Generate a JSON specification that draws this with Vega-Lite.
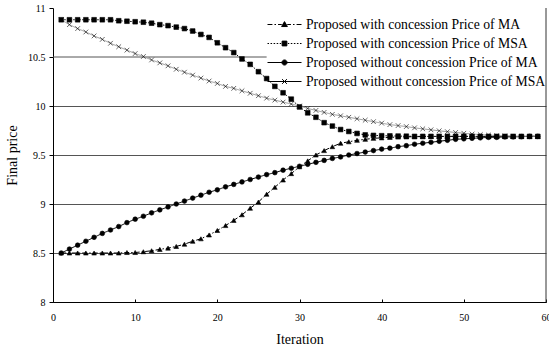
{
  "$schema": "https://vega.github.io/schema/vega-lite/v6.json",
  "width": 493,
  "height": 294,
  "autosize": {"type": "none"},
  "padding": {"left": 53, "top": 8, "right": 3, "bottom": 46},
  "config": {
    "view": {"stroke": null},
    "font": "Liberation Serif",
    "axis": {
      "labelFont": "Liberation Serif",
      "titleFont": "Liberation Serif",
      "labelColor": "black",
      "titleColor": "black",
      "titleFontWeight": "normal",
      "domainColor": "black",
      "tickColor": "black",
      "labelFontSize": 10,
      "titleFontSize": 14
    }
  },
  "datasets": {
    "rows": [
      {"s":"A","x":1,"y":8.5},{"s":"A","x":2,"y":8.5},{"s":"A","x":3,"y":8.5},{"s":"A","x":4,"y":8.5},{"s":"A","x":5,"y":8.5},{"s":"A","x":6,"y":8.5},{"s":"A","x":7,"y":8.5},{"s":"A","x":8,"y":8.5},{"s":"A","x":9,"y":8.505},{"s":"A","x":10,"y":8.505},
      {"s":"A","x":11,"y":8.513},{"s":"A","x":12,"y":8.523},{"s":"A","x":13,"y":8.537},{"s":"A","x":14,"y":8.55},{"s":"A","x":15,"y":8.567},{"s":"A","x":16,"y":8.59},{"s":"A","x":17,"y":8.62},{"s":"A","x":18,"y":8.645},{"s":"A","x":19,"y":8.684},{"s":"A","x":20,"y":8.73},
      {"s":"A","x":21,"y":8.78},{"s":"A","x":22,"y":8.833},{"s":"A","x":23,"y":8.89},{"s":"A","x":24,"y":8.957},{"s":"A","x":25,"y":9.02},{"s":"A","x":26,"y":9.1},{"s":"A","x":27,"y":9.17},{"s":"A","x":28,"y":9.245},{"s":"A","x":29,"y":9.31},{"s":"A","x":30,"y":9.38},
      {"s":"A","x":31,"y":9.44},{"s":"A","x":32,"y":9.5},{"s":"A","x":33,"y":9.545},{"s":"A","x":34,"y":9.585},{"s":"A","x":35,"y":9.62},{"s":"A","x":36,"y":9.635},{"s":"A","x":37,"y":9.65},{"s":"A","x":38,"y":9.66},{"s":"A","x":39,"y":9.67},{"s":"A","x":40,"y":9.675},
      {"s":"A","x":41,"y":9.68},{"s":"A","x":42,"y":9.683},{"s":"A","x":43,"y":9.685},{"s":"A","x":44,"y":9.687},{"s":"A","x":45,"y":9.688},{"s":"A","x":46,"y":9.69},{"s":"A","x":47,"y":9.69},{"s":"A","x":48,"y":9.69},{"s":"A","x":49,"y":9.69},{"s":"A","x":50,"y":9.69},
      {"s":"A","x":51,"y":9.69},{"s":"A","x":52,"y":9.69},{"s":"A","x":53,"y":9.69},{"s":"A","x":54,"y":9.69},{"s":"A","x":55,"y":9.69},{"s":"A","x":56,"y":9.69},{"s":"A","x":57,"y":9.69},{"s":"A","x":58,"y":9.69},{"s":"A","x":59,"y":9.69},

      {"s":"B","x":1,"y":10.88},{"s":"B","x":2,"y":10.88},{"s":"B","x":3,"y":10.88},{"s":"B","x":4,"y":10.88},{"s":"B","x":5,"y":10.88},{"s":"B","x":6,"y":10.88},{"s":"B","x":7,"y":10.88},{"s":"B","x":8,"y":10.87},{"s":"B","x":9,"y":10.865},{"s":"B","x":10,"y":10.86},
      {"s":"B","x":11,"y":10.855},{"s":"B","x":12,"y":10.845},{"s":"B","x":13,"y":10.83},{"s":"B","x":14,"y":10.82},{"s":"B","x":15,"y":10.805},{"s":"B","x":16,"y":10.79},{"s":"B","x":17,"y":10.765},{"s":"B","x":18,"y":10.73},{"s":"B","x":19,"y":10.7},{"s":"B","x":20,"y":10.645},
      {"s":"B","x":21,"y":10.595},{"s":"B","x":22,"y":10.545},{"s":"B","x":23,"y":10.48},{"s":"B","x":24,"y":10.425},{"s":"B","x":25,"y":10.35},{"s":"B","x":26,"y":10.28},{"s":"B","x":27,"y":10.2},{"s":"B","x":28,"y":10.135},{"s":"B","x":29,"y":10.07},{"s":"B","x":30,"y":9.99},
      {"s":"B","x":31,"y":9.93},{"s":"B","x":32,"y":9.885},{"s":"B","x":33,"y":9.83},{"s":"B","x":34,"y":9.795},{"s":"B","x":35,"y":9.76},{"s":"B","x":36,"y":9.74},{"s":"B","x":37,"y":9.72},{"s":"B","x":38,"y":9.705},{"s":"B","x":39,"y":9.7},{"s":"B","x":40,"y":9.697},
      {"s":"B","x":41,"y":9.695},{"s":"B","x":42,"y":9.693},{"s":"B","x":43,"y":9.692},{"s":"B","x":44,"y":9.69},{"s":"B","x":45,"y":9.69},{"s":"B","x":46,"y":9.69},{"s":"B","x":47,"y":9.69},{"s":"B","x":48,"y":9.69},{"s":"B","x":49,"y":9.69},{"s":"B","x":50,"y":9.69},
      {"s":"B","x":51,"y":9.69},{"s":"B","x":52,"y":9.69},{"s":"B","x":53,"y":9.69},{"s":"B","x":54,"y":9.69},{"s":"B","x":55,"y":9.69},{"s":"B","x":56,"y":9.69},{"s":"B","x":57,"y":9.69},{"s":"B","x":58,"y":9.69},{"s":"B","x":59,"y":9.69},

      {"s":"C","x":1,"y":8.5},{"s":"C","x":2,"y":8.54},{"s":"C","x":3,"y":8.58},{"s":"C","x":4,"y":8.62},{"s":"C","x":5,"y":8.66},{"s":"C","x":6,"y":8.7},{"s":"C","x":7,"y":8.735},{"s":"C","x":8,"y":8.77},{"s":"C","x":9,"y":8.81},{"s":"C","x":10,"y":8.845},
      {"s":"C","x":11,"y":8.875},{"s":"C","x":12,"y":8.91},{"s":"C","x":13,"y":8.94},{"s":"C","x":14,"y":8.97},{"s":"C","x":15,"y":9.0},{"s":"C","x":16,"y":9.03},{"s":"C","x":17,"y":9.06},{"s":"C","x":18,"y":9.09},{"s":"C","x":19,"y":9.12},{"s":"C","x":20,"y":9.145},
      {"s":"C","x":21,"y":9.175},{"s":"C","x":22,"y":9.2},{"s":"C","x":23,"y":9.225},{"s":"C","x":24,"y":9.25},{"s":"C","x":25,"y":9.275},{"s":"C","x":26,"y":9.3},{"s":"C","x":27,"y":9.32},{"s":"C","x":28,"y":9.345},{"s":"C","x":29,"y":9.365},{"s":"C","x":30,"y":9.385},
      {"s":"C","x":31,"y":9.405},{"s":"C","x":32,"y":9.425},{"s":"C","x":33,"y":9.445},{"s":"C","x":34,"y":9.465},{"s":"C","x":35,"y":9.48},{"s":"C","x":36,"y":9.5},{"s":"C","x":37,"y":9.515},{"s":"C","x":38,"y":9.53},{"s":"C","x":39,"y":9.545},{"s":"C","x":40,"y":9.56},
      {"s":"C","x":41,"y":9.57},{"s":"C","x":42,"y":9.585},{"s":"C","x":43,"y":9.595},{"s":"C","x":44,"y":9.61},{"s":"C","x":45,"y":9.62},{"s":"C","x":46,"y":9.63},{"s":"C","x":47,"y":9.64},{"s":"C","x":48,"y":9.65},{"s":"C","x":49,"y":9.66},{"s":"C","x":50,"y":9.665},
      {"s":"C","x":51,"y":9.67},{"s":"C","x":52,"y":9.675},{"s":"C","x":53,"y":9.68},{"s":"C","x":54,"y":9.68},{"s":"C","x":55,"y":9.685},{"s":"C","x":56,"y":9.685},{"s":"C","x":57,"y":9.687},{"s":"C","x":58,"y":9.69},{"s":"C","x":59,"y":9.69},

      {"s":"D","x":1,"y":10.88},{"s":"D","x":2,"y":10.83},{"s":"D","x":3,"y":10.79},{"s":"D","x":4,"y":10.755},{"s":"D","x":5,"y":10.715},{"s":"D","x":6,"y":10.68},{"s":"D","x":7,"y":10.64},{"s":"D","x":8,"y":10.605},{"s":"D","x":9,"y":10.57},{"s":"D","x":10,"y":10.535},
      {"s":"D","x":11,"y":10.505},{"s":"D","x":12,"y":10.47},{"s":"D","x":13,"y":10.44},{"s":"D","x":14,"y":10.41},{"s":"D","x":15,"y":10.375},{"s":"D","x":16,"y":10.345},{"s":"D","x":17,"y":10.315},{"s":"D","x":18,"y":10.285},{"s":"D","x":19,"y":10.255},{"s":"D","x":20,"y":10.23},
      {"s":"D","x":21,"y":10.2},{"s":"D","x":22,"y":10.18},{"s":"D","x":23,"y":10.155},{"s":"D","x":24,"y":10.13},{"s":"D","x":25,"y":10.105},{"s":"D","x":26,"y":10.08},{"s":"D","x":27,"y":10.06},{"s":"D","x":28,"y":10.04},{"s":"D","x":29,"y":10.02},{"s":"D","x":30,"y":10.0},
      {"s":"D","x":31,"y":9.975},{"s":"D","x":32,"y":9.955},{"s":"D","x":33,"y":9.935},{"s":"D","x":34,"y":9.915},{"s":"D","x":35,"y":9.9},{"s":"D","x":36,"y":9.885},{"s":"D","x":37,"y":9.87},{"s":"D","x":38,"y":9.855},{"s":"D","x":39,"y":9.84},{"s":"D","x":40,"y":9.825},
      {"s":"D","x":41,"y":9.81},{"s":"D","x":42,"y":9.8},{"s":"D","x":43,"y":9.79},{"s":"D","x":44,"y":9.777},{"s":"D","x":45,"y":9.767},{"s":"D","x":46,"y":9.757},{"s":"D","x":47,"y":9.747},{"s":"D","x":48,"y":9.738},{"s":"D","x":49,"y":9.73},{"s":"D","x":50,"y":9.722},
      {"s":"D","x":51,"y":9.714},{"s":"D","x":52,"y":9.708},{"s":"D","x":53,"y":9.703},{"s":"D","x":54,"y":9.698},{"s":"D","x":55,"y":9.695},{"s":"D","x":56,"y":9.692},{"s":"D","x":57,"y":9.69},{"s":"D","x":58,"y":9.69},{"s":"D","x":59,"y":9.69}
    ],
    "border": [{"x": 60}],
    "grid105": [{"x": 0, "x2": 26, "y": 10.5}]
  },
  "resolve": {"scale": {"shape": "independent"}},
  "layer": [
    {
      "data": {"name": "grid105"},
      "mark": {"type": "rule", "color": "#555555", "strokeWidth": 1},
      "encoding": {
        "x": {"field": "x", "type": "quantitative"},
        "x2": {"field": "x2"},
        "y": {"field": "y", "type": "quantitative"}
      }
    },
    {
      "data": {"name": "rows"},
      "mark": {"type": "line", "strokeWidth": 1},
      "encoding": {
        "x": {"field": "x", "type": "quantitative", "scale": {"domain": [0, 60], "nice": false},
              "axis": {"title": "Iteration", "values": [0, 10, 20, 30, 40, 50, 60], "grid": false, "tickSize": -3, "labelPadding": 13, "labelFlush": false, "titlePadding": 10}},
        "y": {"field": "y", "type": "quantitative", "scale": {"domain": [8, 11], "nice": false, "zero": false},
              "axis": {"title": "Final price", "values": [8, 8.5, 9, 9.5, 10, 10.5, 11], "format": "~f", "grid": true, "gridColor": "#555",
                       "gridOpacity": {"condition": {"test": "datum.value >= 10.5", "value": 0}, "value": 1},
                       "tickSize": 4, "labelPadding": 4, "titlePadding": 8}},
        "detail": {"field": "s", "type": "nominal"},
        "strokeDash": {"field": "s", "type": "nominal", "scale": {"domain": ["A", "B", "C", "D"], "range": [[5, 2, 1.5, 2], [1.5, 1.5], [1, 0], [1, 0]]}, "legend": null},
        "color": {"field": "s", "type": "nominal", "scale": {"domain": ["A", "B", "C", "D"], "range": ["#000000", "#000000", "#000000", "#999999"]}, "legend": null}
      }
    },
    {
      "data": {"name": "rows"},
      "mark": {"type": "point", "filled": true, "color": "#000000", "stroke": "#000000", "strokeWidth": 0.6, "size": 22, "opacity": 1},
      "encoding": {
        "x": {"field": "x", "type": "quantitative"},
        "y": {"field": "y", "type": "quantitative"},
        "shape": {"field": "s", "type": "nominal", "scale": {"domain": ["A", "B", "C", "D"], "range": ["triangle-up", "square", "circle", "M-1,-1L1,1M-1,1L1,-1"]}, "legend": null}
      }
    },
    {
      "data": {"name": "border"},
      "mark": {"type": "rule", "color": "#333333", "strokeWidth": 1},
      "encoding": {"x": {"field": "x", "type": "quantitative"}}
    },
    {
      "data": {"name": "rows"},
      "transform": [{"filter": "datum.x < 0"}],
      "mark": {"type": "point", "filled": true, "color": "#000000", "stroke": "#000000", "strokeWidth": 1, "opacity": 1},
      "encoding": {
        "x": {"field": "x", "type": "quantitative"},
        "y": {"field": "y", "type": "quantitative"},
        "shape": {
          "field": "s", "type": "nominal",
          "scale": {"domain": ["A", "B", "C", "D"], "range": [
            "M-1,0H-0.71M-0.59,0H-0.5M-0.38,0H-0.16M-0.17,0.12L0,-0.17L0.17,0.12ZM0.16,0H0.38M0.5,0H0.59M0.71,0H1",
            "M-1,0H-0.91M-0.82,0H-0.73M-0.64,0H-0.55M-0.46,0H-0.37M-0.28,0H-0.2M-0.14,-0.14H0.14V0.14H-0.14ZM0.2,0H0.28M0.37,0H0.46M0.55,0H0.64M0.73,0H0.82M0.91,0H1",
            "M-1,0H1M-0.15,0A0.15,0.15,0,1,0,0.15,0A0.15,0.15,0,1,0,-0.15,0Z",
            "M-1,0H1M-0.14,-0.14L0.14,0.14M-0.14,0.14L0.14,-0.14"
          ]},
          "legend": {
            "title": null,
            "orient": "none",
            "legendX": 212,
            "legendY": 5.5,
            "padding": 2,
            "symbolSize": 1156,
            "symbolStrokeWidth": 1,
            "clipHeight": 18,
            "rowPadding": 1,
            "labelOffset": 4,
            "labelFont": "Liberation Serif",
            "labelFontSize": 13.7,
            "labelColor": "black",
            "labelLimit": 0,
            "labelExpr": "datum.label == 'A' ? 'Proposed with concession Price of MA' : datum.label == 'B' ? 'Proposed with concession Price of MSA' : datum.label == 'C' ? 'Proposed without concession Price of MA' : 'Proposed without concession Price of MSA'"
          }
        }
      }
    }
  ]
}
